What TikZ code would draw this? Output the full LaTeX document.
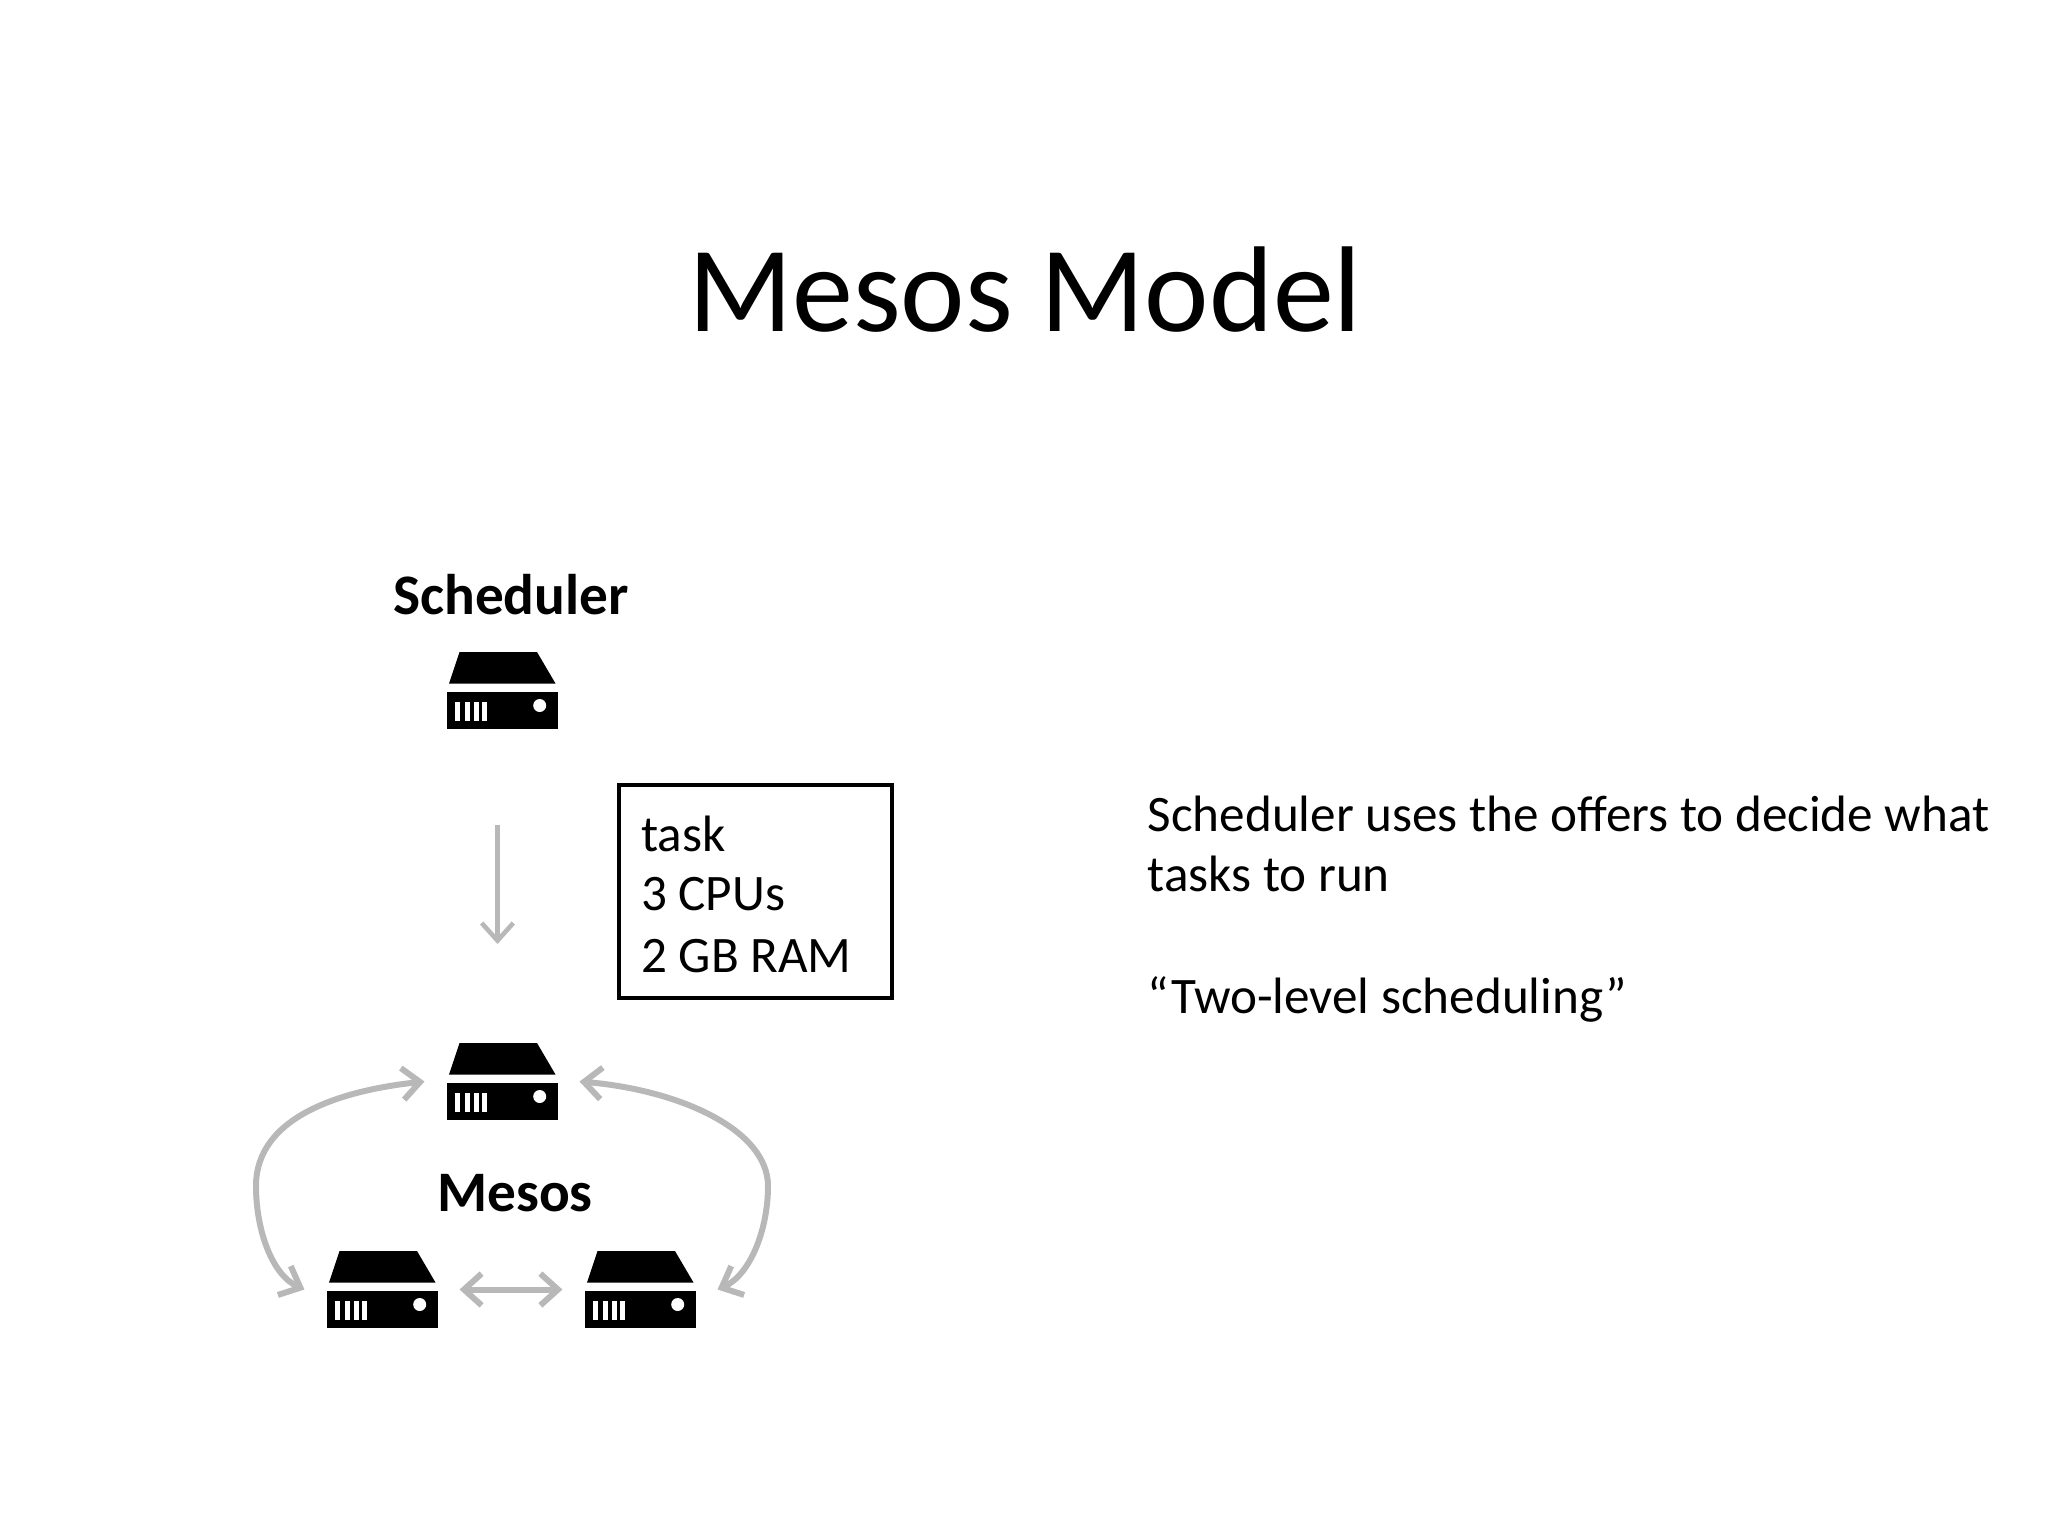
\documentclass[tikz,border=0pt]{standalone}
\usepackage{fontspec}
\setmainfont{Carlito}
\usetikzlibrary{arrows.meta}
\definecolor{flowgray}{HTML}{B8B8B8}
\tikzset{
	serverbox/.style={inner sep=0, outer sep=.22cm, minimum width=1.11cm, minimum height=.77cm},
	flow/.style={draw=flowgray, line width=1.7pt, {Straight Barb[length=5pt,width=9pt]}-{Straight Barb[length=5pt,width=9pt]}},
	offer/.style={draw=flowgray, line width=1.3pt, -{Straight Barb[length=5pt,width=9pt]}},
	label/.style={font=\fontsize{14.55}{18}\selectfont, anchor=base west, inner sep=0},
	server/.pic={
		\fill (-42.5,-38.5) -- (35,-38.5) -- (53.5,-7) -- (-53,-7) -- cycle;
		\fill (-55.5,1) rectangle (55.5,38.5);
		\foreach \x in {-47,-37.5,-28.5,-20}
			\fill[white] (\x,11) rectangle ++(5,19);
		\fill[white] (37.7,15) circle (6.5);
	}
}

\begin{document}
\begin{tikzpicture}[x=.01cm, y=-.01cm]

\useasboundingbox[fill=white] (0, 0) rectangle (2048, 1536);

\node[font=\fontsize{34.7}{40}\selectfont, inner sep=0] (title) at (1025, 290) {Mesos Model};

\foreach \n/\p in {sched/{502,690.5}, master/{502,1081.5}, workerl/{382,1289.5}, workerr/{640,1289.5}} {
	\node[serverbox] (\n) at (\p) {};
	\pic at (\n) {server};
}

\node[font=\fontsize{16.3}{20}\selectfont\bfseries, inner sep=0] (schedlabel) at (511, 595) {Scheduler};
\node[font=\fontsize{16.3}{20}\selectfont\bfseries, inner sep=0] (mesoslabel) at (515, 1193) {Mesos};

\coordinate (offertop) at (497.5, 825);
\coordinate (offerbot) at (497.5, 944);
\draw[offer] (offertop) -- (offerbot);

\draw[flow] (workerl.west) .. controls (272, 1275) and (256, 1230) .. (256, 1186)
	.. controls (256, 1115) and (345, 1090) .. (master.west);
\draw[flow] (workerr.east) .. controls (750, 1275) and (768, 1230) .. (768, 1186)
	.. controls (768, 1130) and (680, 1090) .. (master.east);
\draw[flow] (workerl.east) -- (workerr.west);

\draw[black, line width=1.4pt] (619, 785) rectangle (892, 998);
\node[label] (task) at (640.5, 851) {task};
\node[label] (cpus) at (640.5, 910) {3 CPUs};
\node[label] (ram) at (640.5, 972) {2 GB RAM};

\node[label] (line1) at (1147, 831.5) {Scheduler uses the offers to decide what};
\node[label] (line2) at (1147, 891.5) {tasks to run};
\node[label] (line3) at (1147, 1013.5) {“Two-level scheduling”};

\end{tikzpicture}
\end{document}
